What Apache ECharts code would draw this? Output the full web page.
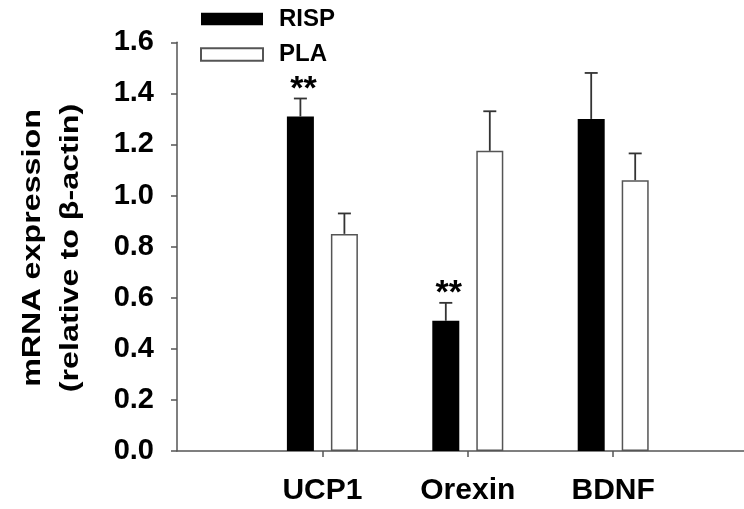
<!DOCTYPE html>
<html>
<head>
<meta charset="utf-8">
<script src="https://cdn.jsdelivr.net/npm/echarts@6/dist/echarts.min.js"></script>
<style>
  html, body { margin: 0; padding: 0; background: #ffffff; }
  #chart { width: 744px; height: 509px; }
</style>
</head>
<body>
<div id="chart"></div>
<script>
// Relative mRNA expression (mean and SEM) for each gene and group
const genes = ['UCP1', 'Orexin', 'BDNF'];
const rispMean = [1.31, 0.51, 1.30];
const rispSem = [0.07, 0.07, 0.18];
const plaMean = [0.85, 1.175, 1.06];
const plaSem = [0.08, 0.155, 0.105];
const rispSignif = ['**', '**', ''];

// value-axis ticks
const yMin = 0, yMax = 1.6, yStep = 0.2;

const FONT = "'Liberation Sans', Arial, Helvetica, sans-serif";
const AXIS_GRAY = '#555555';
const BAR_WIDTH = 27;
const BAR_GAP_PX = 17;
const HALF_SPREAD = (BAR_WIDTH + BAR_GAP_PX) / 2;

// padded category axis: an empty slot on each side of the genes
const axisCats = [''].concat(genes, ['']);

function errorBars(name, means, sems, shift) {
  return {
    type: 'custom',
    name: name,
    silent: true,
    z: 1,
    data: means.map((m, i) => [i + 1, m, sems[i]]),
    renderItem: function (params, api) {
      const idx = api.value(0);
      const base = api.coord([idx, api.value(1)]);
      const top = api.coord([idx, api.value(1) + api.value(2)]);
      const x = base[0] + shift;
      const style = { stroke: '#333333', lineWidth: 1.8 };
      return {
        type: 'group',
        children: [
          { type: 'line', shape: { x1: x, y1: base[1], x2: x, y2: top[1] }, style: style },
          { type: 'line', shape: { x1: x - 6.5, y1: top[1], x2: x + 6.5, y2: top[1] }, style: style }
        ]
      };
    }
  };
}

const chart = echarts.init(document.getElementById('chart'), null, { renderer: 'canvas' });

chart.setOption({
  backgroundColor: '#ffffff',
  animation: false,
  textStyle: { fontFamily: FONT },
  grid: {
    left: 177, top: 42.3, bottom: 58, width: 581.6,
    containLabel: false,
    outerBoundsMode: 'none'
  },
  legend: {
    data: ['RISP', 'PLA'],
    orient: 'vertical',
    left: 200,
    top: 7,
    padding: 0,
    itemWidth: 62,
    itemHeight: 12.5,
    itemGap: 11.4,
    icon: 'rect',
    selectedMode: false,
    formatter: '{s| }{t|{name}}',
    textStyle: {
      fontFamily: FONT, fontWeight: 'bold', fontSize: 24, color: '#000',
      rich: {
        s: { width: 11, fontSize: 24 },
        t: { fontFamily: FONT, fontWeight: 'bold', fontSize: 24, color: '#000' }
      }
    }
  },
  xAxis: {
    type: 'category',
    data: axisCats,
    boundaryGap: false,
    axisLine: { lineStyle: { color: AXIS_GRAY, width: 1.5 } },
    axisTick: {
      length: 6,
      interval: function (i, v) { return v !== ''; },
      lineStyle: { color: AXIS_GRAY, width: 1.5 }
    },
    axisLabel: {
      interval: 0,
      margin: 25,
      fontFamily: FONT,
      fontWeight: 'bold',
      fontSize: 30,
      color: '#000'
    },
    splitLine: { show: false }
  },
  yAxis: {
    type: 'value',
    min: yMin,
    max: yMax,
    interval: yStep,
    axisLine: { show: true, lineStyle: { color: AXIS_GRAY, width: 1.5 } },
    axisTick: { show: true, length: 6, lineStyle: { color: AXIS_GRAY, width: 1.5 } },
    axisLabel: {
      margin: 23,
      fontFamily: FONT,
      fontWeight: 'bold',
      fontSize: 29,
      color: '#000',
      formatter: function (v) { return v.toFixed(1); }
    },
    splitLine: { show: false }
  },
  graphic: [{
    type: 'text',
    x: 52,
    y: 248,
    rotation: Math.PI / 2,
    scaleX: 1.24,
    silent: true,
    style: {
      text: 'mRNA expression\n(relative to \u03b2-actin)',
      fontFamily: FONT,
      fontWeight: 'bold',
      fontSize: 26,
      lineHeight: 38,
      fill: '#000',
      align: 'center',
      verticalAlign: 'middle',
      textAlign: 'center',
      textVerticalAlign: 'middle'
    }
  }],
  series: [
    {
      name: 'RISP',
      type: 'bar',
      barWidth: BAR_WIDTH,
      barGap: (BAR_GAP_PX / BAR_WIDTH * 100) + '%',
      z: 2,
      itemStyle: { color: '#000000', borderColor: '#000000', borderWidth: 0 },
      label: {
        show: false,
        position: 'top',
        distance: 10,
        offset: [3, 0],
        fontFamily: FONT,
        fontWeight: 'bold',
        fontSize: 34,
        color: '#000'
      },
      data: rispMean.map((v, i) => ({
        value: [i + 1, v],
        label: { show: rispSignif[i] !== '', formatter: rispSignif[i] }
      }))
    },
    {
      name: 'PLA',
      type: 'bar',
      barWidth: BAR_WIDTH,
      z: 2,
      itemStyle: { color: '#ffffff', borderColor: AXIS_GRAY, borderWidth: 1.5 },
      data: plaMean.map((v, i) => [i + 1, v])
    },
    errorBars('RISP SEM', rispMean, rispSem, -HALF_SPREAD),
    errorBars('PLA SEM', plaMean, plaSem, HALF_SPREAD)
  ]
});
</script>
</body>
</html>
